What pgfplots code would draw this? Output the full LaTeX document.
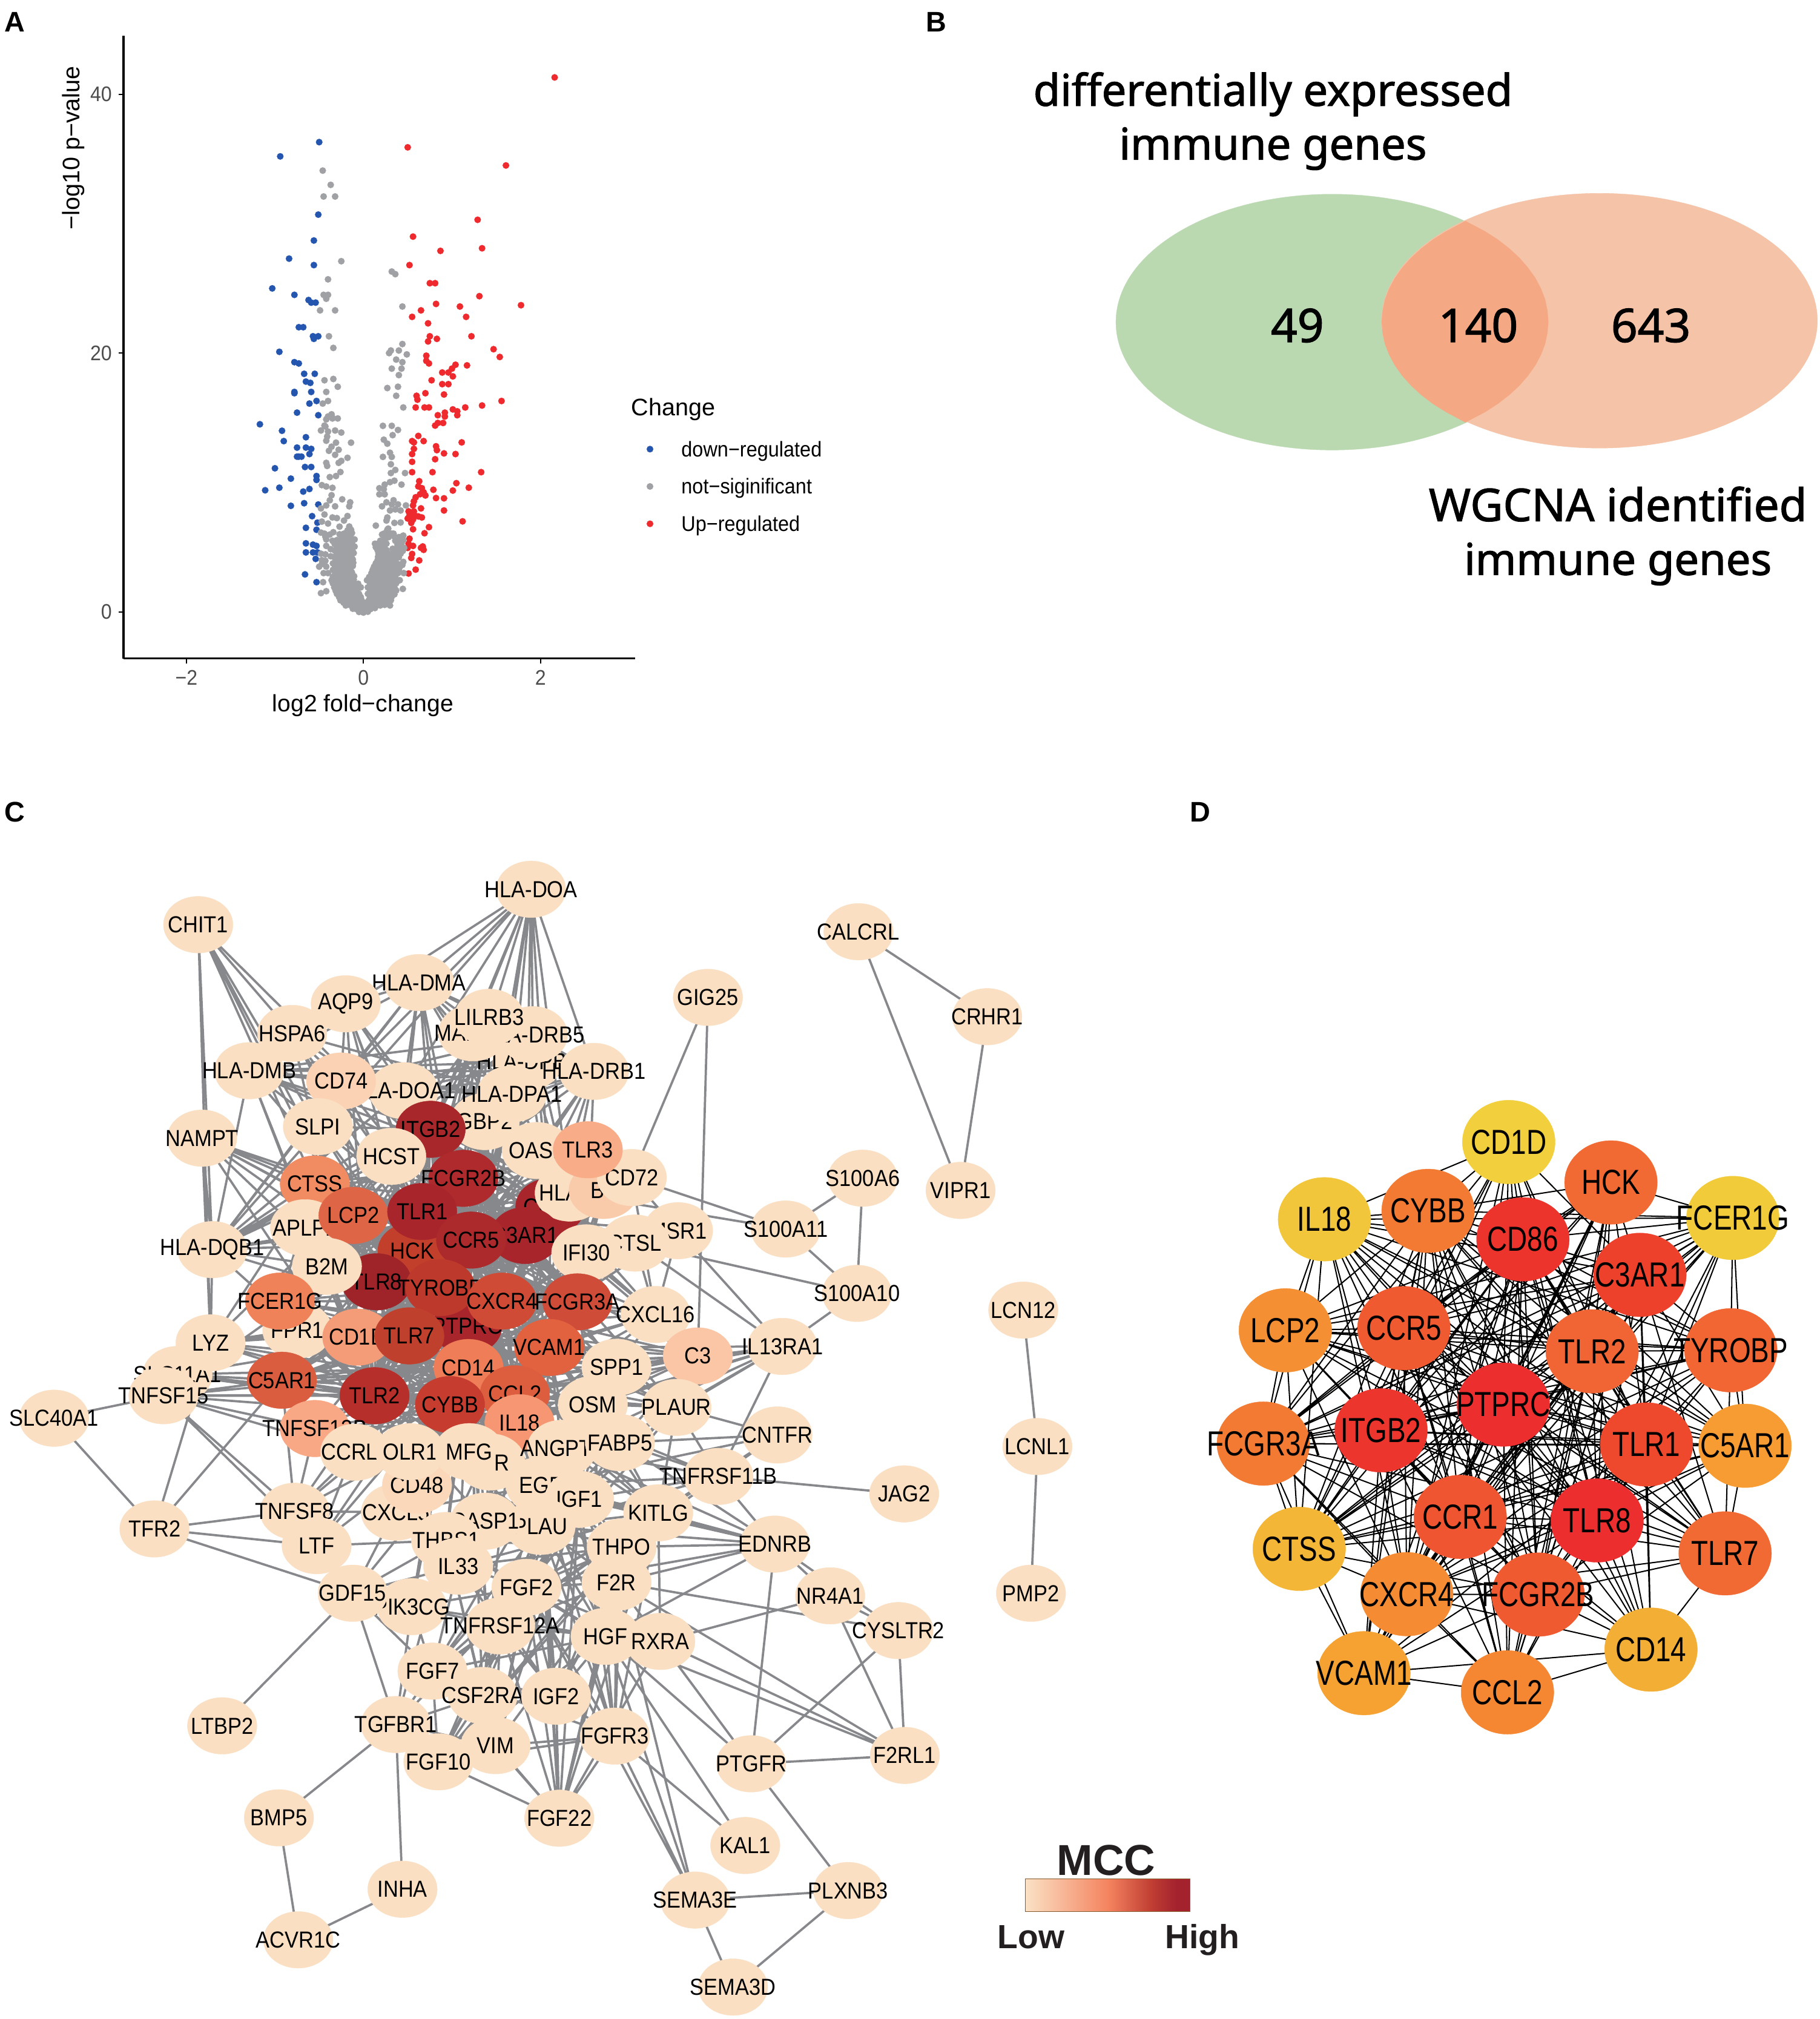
\documentclass[border=0pt]{standalone}
\usepackage{fontspec}
\usepackage{pgfplots}
\pgfplotsset{compat=1.18}
\setmainfont{Liberation Sans}
\newfontfamily\glf[FakeStretch=0.9]{Liberation Sans}
\newfontfamily\gdf[FakeStretch=0.8]{Liberation Sans}
\newfontfamily\axf[FakeStretch=0.92]{Liberation Sans}
\newfontfamily\venf[FakeBold=1.6]{Noto Sans}
\definecolor{ticktext}{HTML}{4D4D4D}
\definecolor{vgrey}{HTML}{A0A1A4}
\definecolor{vblue}{HTML}{2455AF}
\definecolor{vred}{HTML}{EE2A2E}
\definecolor{edgeC}{HTML}{87888C}
\definecolor{vg}{HTML}{BBD9B1}
\definecolor{vp}{HTML}{F4C3A8}
\definecolor{vo}{HTML}{F4A883}
\definecolor{bark}{HTML}{231F20}
\definecolor{m0}{HTML}{FBE1C5}
\definecolor{m1}{HTML}{F7B494}
\definecolor{m2}{HTML}{F58460}
\definecolor{m3}{HTML}{C13F33}
\definecolor{m4}{HTML}{A3222E}
\pgfdeclarehorizontalshading{mccshade}{100bp}{color(0bp)=(m0); color(25bp)=(m0); color(37bp)=(m1); color(50bp)=(m2); color(63bp)=(m3); color(71bp)=(m4); color(75bp)=(m4); color(100bp)=(m4)}
% ---- node helpers
\def\N#1#2#3{\Nh{#1}{#2}{#3}{FADFC3}}
\def\Nh#1#2#3#4{\NL{#1}{#2}{#3}{#4}{#1}}
\def\NLdef#1#2#3#4#5{\expandafter\gdef\csname n@#1\endcsname{#2,#3}\definecolor{h#4}{HTML}{#4}}
\def\NLdrawC#1#2#3#4#5{\addplot[forget plot,only marks,mark=*,mark size=11pt,mark options={xscale=1.227,draw=h#4,line width=0.1pt,fill=h#4},nodes near coords={#5},every node near coord/.style={anchor=center,inner sep=0pt,text=black,font=\glf\fontsize{9}{9}\selectfont}] coordinates {(#2,#3)};}
\def\NLdrawD#1#2#3#4#5{\addplot[forget plot,only marks,mark=*,mark size=16.25pt,mark options={xscale=1.108,draw=h#4,line width=0.1pt,fill=h#4},nodes near coords={#5},every node near coord/.style={anchor=center,inner sep=0pt,text=black,font=\gdf\fontsize{13.5}{13.5}\selectfont}] coordinates {(#2,#3)};}
\newcommand\addE[3]{\ifcsname n@#2\endcsname\ifcsname n@#3\endcsname\xdef#1{#1(\csname n@#2\endcsname)(\csname n@#3\endcsname)(nan,nan)}\else\typeout{MISSING #3}\fi\else\typeout{MISSING #2}\fi}
\def\Cnodes{%
\N{HLA-DOA}{412.6}{-691}\N{CHIT1}{154}{-718.5}\N{CALCRL}{667}{-724}\N{GIG25}{550}{-775}\N{CRHR1}{767}{-790}\N{VIPR1}{746.3}{-925}\N{S100A6}{670.3}{-915.5}\N{S100A11}{610.4}{-955}\N{S100A10}{665.8}{-1005}\N{LCN12}{795}{-1018}\N{LCNL1}{806}{-1124}\N{PMP2}{801}{-1238}\N{JAG2}{702.5}{-1160.8}\N{SLC40A1}{42}{-1102}\N{TFR2}{120}{-1188}%
\N{HLA-DMA}{325.6}{-763.5}\N{HSPA6}{227}{-803}\N{AQP9}{268.6}{-780}\N{HLA-DPB1}{410}{-825}\N{MARCO}{367.6}{-802.5}\N{HLA-DRB5}{414}{-804}\N{LILRB3}{380}{-790.5}\N{HLA-DMB}{193.6}{-832}\N{HLA-DOA1}{313.6}{-847.5}\Nh{CD74}{265}{-840}{FBD3B4}\N{HLA-DRB1}{461.5}{-832.5}\N{GBP2}{376.6}{-871.5}\Nh{ITGB2}{334.6}{-877.5}{A8272B}\N{HLA-DPA1}{397.6}{-850}%
\N{SLPI}{247}{-875.4}\N{NAMPT}{157}{-884.4}\N{HCST}{304}{-898.5}\N{OAS1}{417}{-894}\Nh{FCGR2B}{360}{-915.6}{AE2A2C}\Nh{CD86}{427.6}{-937.5}{A8262B}\N{HLA-B}{442.6}{-927}\NL{BST2}{469}{-925}{FACBAB}{\hspace{10pt}BST2}\N{CD72}{490.9}{-915}\Nh{TLR3}{456.7}{-893.4}{F8AC88}%
\Nh{CTSS}{244.6}{-920}{F08B62}\N{APLP2}{237}{-954}\Nh{LCP2}{274.6}{-944.4}{DE6546}\Nh{HCK}{320.5}{-972}{C23F2C}\Nh{TLR1}{328}{-941.4}{A8262B}\Nh{C3AR1}{408}{-960}{A8262B}\Nh{CCR5}{366}{-963.6}{AC2A2C}\N{MSR1}{526.8}{-956.3}\N{CTSL}{493.4}{-965.9}\N{IFI30}{455.5}{-973.5}\N{HLA-DQB1}{165}{-971}\Nh{TLR8}{292.6}{-996}{9F2429}\N{B2M}{254}{-984}\Nh{PTPRC}{363}{-1030.5}{A8262B}\Nh{TYROBP}{342}{-1000.5}{BD392B}\Nh{CXCR4}{390}{-1011}{D04B35}\Nh{FCGR3A}{448.6}{-1011.6}{CE4C38}\N{FPR1}{231}{-1033.5}\Nh{FCER1G}{217.6}{-1011}{EF8259}\N{CXCL16}{509.4}{-1021.4}\Nh{CD1D}{277.6}{-1039}{F49B78}\Nh{TLR7}{318}{-1038}{C0402E}\Nh{VCAM1}{426.7}{-1047}{E26240}\N{SLC11A1}{138}{-1068}\N{LYZ}{163.6}{-1043.4}\N{TNFSF15}{127}{-1084.5}\N{SPP1}{479}{-1062.4}\Nh{C3}{542.2}{-1053.6}{FBC6A6}\N{IL13RA1}{607.9}{-1046.2}\Nh{CD14}{364}{-1062.6}{EF7E58}\Nh{C5AR1}{219}{-1072.5}{DB5D40}\Nh{TLR2}{291}{-1084.5}{B62F2A}\Nh{CCL2}{400}{-1083}{DC5E3F}\Nh{CYBB}{349.6}{-1091.4}{C63D2F}\N{OSM}{460.6}{-1091.4}\N{PLAUR}{525.6}{-1093.6}\Nh{IL18}{403.6}{-1105.5}{F69672}%
\N{CNTFR}{604}{-1115}\N{TNFRSF11B}{558.2}{-1147.2}\Nh{TNFSF13B}{244.6}{-1110}{F9A886}\N{CXCL5}{307.6}{-1175}\Nh{CD48}{324}{-1154}{FCD8BA}\N{CCRL2}{276}{-1128.4}\N{OLR1}{318.7}{-1128}\NL{CCR2}{381}{-1136}{FADFC3}{}\NL{MFGE8}{364.6}{-1128}{FADFC3}{MFG}\N{ANGPT1}{436.6}{-1125.4}\N{FABP5}{481.6}{-1121}%
\N{TNFSF8}{229}{-1174.3}\N{EGF}{420}{-1154}\N{IGF1}{450}{-1165}\N{PLAU}{420}{-1186}\N{CASP1}{377}{-1182}\N{THBS1}{346.6}{-1197}\N{KITLG}{511.4}{-1175.5}\N{LTF}{246}{-1201}\N{EDNRB}{602}{-1199.8}\N{THPO}{483}{-1202}\N{F2R}{479}{-1229.5}\N{IL33}{356}{-1217}\N{PIK3CG}{320}{-1248.4}\N{GDF15}{274}{-1238}\N{FGF2}{409}{-1233.4}\N{TNFRSF12A}{388.6}{-1263.4}\N{HGF}{470.5}{-1271.5}\N{RXRA}{513}{-1275.4}\N{NR4A1}{645}{-1240}\N{CYSLTR2}{698}{-1267}\N{FGF7}{336}{-1298.5}\N{CSF2RA}{375}{-1317.4}\N{IGF2}{432}{-1318}\N{LTBP2}{172.6}{-1341}\N{TGFBR1}{307.6}{-1340}\N{VIM}{385}{-1356.4}\N{FGF10}{340.6}{-1369}\N{FGFR3}{477.7}{-1349}\N{PTGFR}{583.6}{-1370.5}\N{F2RL1}{703}{-1364}\N{FGF22}{434.5}{-1412.8}\N{BMP5}{216.7}{-1412.5}\N{KAL1}{579}{-1434}\N{INHA}{312.7}{-1468}\N{SEMA3E}{540}{-1476.4}\N{PLXNB3}{659}{-1469}\N{ACVR1C}{231.7}{-1507.3}\N{SEMA3D}{569.5}{-1544}}
\let\NL\NLdef
\Cnodes
% ---- edges of panel C
\gdef\Elist{}
\def\core{ITGB2,FCGR2B,TLR1,CD86,C3AR1,CCR5,HCK,TLR8,TYROBP,CXCR4,FCGR3A,TLR7,PTPRC,VCAM1,CD14,TLR2,CYBB,CCL2,IL18,C5AR1,CD1D,FCER1G,LCP2,CTSS,TLR3}
\def\mhc{HLA-DOA,HLA-DMA,HLA-DMB,HLA-DRB5,HLA-DPB1,HLA-DOA1,HLA-DPA1,HLA-DRB1,HLA-DQB1,CD74,HLA-B}
\foreach \a [count=\i] in \core {\foreach \b [count=\j] in \core {\ifnum\j>\i\relax\addE\Elist\a\b\fi}}
\foreach \a [count=\i] in \mhc {\foreach \b [count=\j] in \mhc {\ifnum\j>\i\relax\addE\Elist\a\b\fi}}
\foreach \a in \mhc {\foreach \b in {ITGB2,PTPRC,CD86,CCR5,TLR2}{\addE\Elist\a\b}}
\foreach \a/\bs in {%
CHIT1/{LYZ,SLPI,HSPA6,CTSS,TLR8,LCP2,FCGR3A,HLA-DQB1},
NAMPT/{LYZ,TLR2,CCR5,TLR1,TLR7,PTPRC,CXCR4,FCGR3A,HLA-DQB1,HCK},
AQP9/{ITGB2,TLR2,PTPRC,CD74,FCGR3A,HSPA6,HCK,TLR1,HLA-DMA},
HSPA6/{TLR2,TLR1,ITGB2,CD14,PTPRC,HLA-DMB,CD74,HLA-DPA1},
SLPI/{CTSS,TLR2,TLR1,CD14,PTPRC,ITGB2,CD74},
HCST/{ITGB2,TYROBP,FCER1G,PTPRC,FCGR3A,HCK,TLR1},
MARCO/{HCK,TLR2,PTPRC,ITGB2,HLA-DMA,HLA-DOA,TLR7,TLR1},
LILRB3/{PTPRC,TYROBP,FCER1G,HCK,FCGR2B,ITGB2,HLA-DMA,HLA-DRB1},
GBP2/{IL18,TLR3,HLA-DPA1,CD74,CCL2,CXCL16},
OAS1/{CCR5,CD86,TLR3,TLR7,IFI30},
CD72/{PTPRC,CD86,GIG25,HLA-B,S100A11,TLR2,CD1D,CXCL16},
BST2/{PTPRC,TLR3,IL18,FCGR3A,IFI30},
GIG25/{C3},
APLP2/{ITGB2,TLR2,CD14,PTPRC,CCL2,B2M},
B2M/{ITGB2,PTPRC,FCER1G,TYROBP,CD14,FCGR3A,HLA-DQB1,HLA-DMB,HLA-DPA1,TLR2,HLA-B,HLA-DRB1},
FPR1/{PTPRC,TLR2,C5AR1,CCL2,CXCR4,ITGB2,TYROBP,LYZ,SPP1},
LYZ/{PTPRC,CD14,TLR2,ITGB2,CTSS,HLA-DQB1,CYBB,FCGR3A,SLC11A1,CCL2},
SLC11A1/{PTPRC,TLR2,CD14,C5AR1,CCL2,TLR7,CYBB,IL18},
TNFSF15/{SLC40A1,TNFSF8,CCRL2,TNFSF13B,C5AR1,TLR2,LTF,CCL2,CD14,TLR1,IL18},
SLC40A1/{TFR2},TFR2/{LTF,GDF15,C5AR1,LYZ,TNFSF8},
TNFSF13B/{PTPRC,CD14,TLR2,CCL2,TNFSF8,CXCR4,CCR5,IL18,OSM},
CXCL16/{PTPRC,CCL2,VCAM1,CCR5,IL18,IFI30,CD14,TLR2,ITGB2,FCGR3A,SPP1,CXCR4},
IFI30/{PTPRC,CD14,CTSL,TLR2,FCGR3A,CD86,HLA-DRB1},
CTSL/{S100A10,IL13RA1,CXCL16,PTPRC,FCGR3A,CD14,CD86,TLR7},
MSR1/{CXCL16,IL13RA1,CD14,FCER1G,TLR2,PTPRC,CD72,TLR1},
C3/{CCL2,TLR2,PTPRC,C5AR1,CD14,ITGB2,IL18,SPP1,TLR8,CCR5,VCAM1,OSM,PLAUR,PLAU},
SPP1/{PTPRC,CD14,CCL2,VCAM1,IL18,IL13RA1,ITGB2,TLR2,PLAUR,OSM,PLAU,IGF1,CXCR4,TLR1},
OSM/{PTPRC,CD14,CCL2,VCAM1,IL18,IL13RA1,IGF1,FGF2,HGF,PLAU,TLR2,FCGR3A,CCR5},
PLAUR/{PTPRC,CD14,CCL2,VCAM1,IL13RA1,CNTFR,TNFRSF11B,KITLG,PLAU,FGF2,ITGB2,TLR2,CCR5,IGF1,THBS1,FABP5},
FABP5/{PTPRC,CD14,CCL2,IL18,CNTFR,KITLG,EDNRB,TNFRSF11B,IGF1,VCAM1,IL13RA1},
ANGPT1/{PTPRC,CD14,CCL2,VCAM1,IGF1,KITLG,EDNRB,FGF2,HGF,THBS1,PLAU,IL13RA1,TNFRSF11B},
IL13RA1/{S100A10,TNFRSF11B,VCAM1,CCL2,IL18},
S100A6/{S100A11,S100A10},S100A11/{S100A10,HLA-B},
CNTFR/{TNFRSF11B,KITLG,EGF},JAG2/{TNFRSF11B},
TNFRSF11B/{KITLG,IGF1,FGF2,EGF,PLAU,THPO,CCL2,EDNRB},
CCRL2/{PTPRC,CD14,TLR2,CCL2,TNFSF8,CXCR4,TLR1,VCAM1},
OLR1/{PTPRC,CD14,TLR2,CCL2,VCAM1,TLR7,CYBB},
MFGE8/{PTPRC,CD14,TLR2,ITGB2,CYBB,CCL2},
CCR2/{CCL2,CD14,PTPRC,TLR2,CXCR4,IL18},
CD48/{PTPRC,ITGB2,TLR2,FCER1G,CD14,CYBB},
CXCL5/{CCL2,CXCR4,IL18,TNFSF8,THBS1,PTPRC,TLR2,CD14,PLAU},
TNFSF8/{TLR2,CD14,C5AR1,CCL2,LTF,CXCL5},
LTF/{PTPRC,TLR2,CD14,CCL2,THBS1},
THBS1/{CD14,IL33,PLAU,IGF1,FGF2,HGF,PTPRC,GDF15,CCL2,TGFBR1,THPO,VIM},
CASP1/{IL18,IL33,CXCR4,TLR2,PTPRC,PLAU,CCL2},
IL33/{IL18,CD14,FGF2,GDF15,KITLG,THPO,FGF7},
PLAU/{PTPRC,CD14,CCL2,VCAM1,IGF1,EGF,HGF,KITLG,THPO,F2R,FGF2,FGF7,TLR2,F2R,EDNRB},
IGF1/{PTPRC,CD14,KITLG,THPO,F2R,EGF,FGF2,CCL2,VCAM1,EDNRB,TNFRSF12A,FGF7},
EGF/{PTPRC,CD14,KITLG,THPO,F2R,FGF2,FGF7,TNFRSF12A,HGF,EDNRB,CXCL5},
KITLG/{EDNRB,THPO,F2R,FGF2,HGF,TNFRSF12A,RXRA,PTPRC,VCAM1,CCL2},
THPO/{EDNRB,F2R,FGF2,HGF,TNFRSF12A,IGF2,PTPRC,FGF7},
F2R/{EDNRB,CYSLTR2,PTGFR,F2RL1,FGF2,HGF,TNFRSF12A,VIM,IGF2},
FGF22/{FGF2,FGF7,FGF10,IGF1,IGF2,HGF,FGFR3,KITLG,THPO,F2R,PLAU,VIM,TNFRSF12A,EGF,RXRA},
FGFR3/{FGF2,FGF7,FGF10,IGF1,IGF2,HGF,KITLG,THPO,F2R,PLAU,EGF,VIM,KAL1,SEMA3E},
FGF10/{FGF2,FGF7,KITLG,THPO,IGF1,HGF,PLAU,VIM,CSF2RA,TGFBR1},
FGF7/{FGF2,HGF,IGF1,KITLG,THPO,PLAU,EGF,TNFRSF12A,CSF2RA,PIK3CG},
IGF2/{HGF,FGF2,F2R,KITLG,THPO,PLAU,EGF,THBS1,TNFRSF12A,FGF7,IGF1},
HGF/{FGF2,F2RL1,KAL1,PTGFR,SEMA3E,RXRA,TNFRSF12A,CXCL5,EDNRB,PIK3CG},
VIM/{FGF2,PLAU,F2R,IGF1,CSF2RA,PTPRC,CD14,TNFRSF12A},
CSF2RA/{PTPRC,TNFRSF12A,CD14,THBS1,FGF2,CCL2},
TGFBR1/{FGF7,FGF2,PIK3CG,GDF15,BMP5,INHA,VIM,THBS1,CSF2RA},
TNFRSF12A/{FGF2,PIK3CG,IL33,F2R},
PIK3CG/{FGF2,GDF15,IL33,PTPRC,CCR5,FGF7},
GDF15/{LTBP2,LTF,CD14,CCL2,FGF7},
ACVR1C/{BMP5,INHA},
SEMA3E/{PLXNB3,SEMA3D,FGF2,F2R},PLXNB3/{SEMA3D,PTGFR},
PTGFR/{F2RL1,CYSLTR2,EDNRB,RXRA},
RXRA/{NR4A1,F2RL1,FGF2},NR4A1/{EDNRB,F2RL1,CYSLTR2},
EDNRB/{CYSLTR2,FGF2},CYSLTR2/{F2RL1},
CALCRL/{CRHR1,VIPR1},CRHR1/{VIPR1},LCN12/{LCNL1},LCNL1/{PMP2}%
}{\foreach \b in \bs {\addE\Elist\a\b}}
% ---- panel D
\def\Dnodes{%
\Nh{CD1D}{1172.2}{-887.4}{F2CF3C}\Nh{IL18}{1029}{-947.4}{F2C63A}\Nh{CYBB}{1109.5}{-940.9}{F27A33}\Nh{HCK}{1251.6}{-918.8}{F16A33}\Nh{FCER1G}{1346.3}{-946.4}{F1CB3A}\Nh{CD86}{1183.2}{-963}{EC342C}\Nh{C3AR1}{1274.1}{-990.6}{EE412C}\Nh{LCP2}{998.6}{-1033.7}{F58F33}\Nh{CCR5}{1090.7}{-1032}{F05A30}\Nh{TLR2}{1237}{-1050}{F16433}\Nh{TYROBP}{1344.7}{-1049.2}{F16633}\Nh{PTPRC}{1168}{-1091.4}{EC2F2E}\Nh{ITGB2}{1073}{-1111.4}{EC352D}\Nh{FCGR3A}{981.5}{-1121.7}{F27A33}\Nh{C5AR1}{1355.8}{-1123.4}{F69C32}\Nh{TLR1}{1279.2}{-1122.4}{EE482D}\Nh{CCR1}{1134.5}{-1178.7}{EF5530}\Nh{TLR8}{1240.9}{-1181.4}{EC2F2E}\Nh{CTSS}{1009.4}{-1203.5}{F3B637}\Nh{TLR7}{1340.3}{-1207}{F26A33}\Nh{CXCR4}{1093}{-1238.7}{F58B33}\Nh{FCGR2B}{1195}{-1239}{EF5A30}\Nh{CD14}{1282.7}{-1281.8}{F3AE35}\Nh{VCAM1}{1059.7}{-1300.1}{F5A233}\Nh{CCL2}{1171.2}{-1315}{F58732}}
\let\NL\NLdef
\Dnodes
\def\dlist{CD1D,IL18,CYBB,HCK,FCER1G,CD86,C3AR1,LCP2,CCR5,TLR2,TYROBP,PTPRC,ITGB2,FCGR3A,C5AR1,TLR1,CCR1,TLR8,CTSS,TLR7,CXCR4,FCGR2B,CD14,VCAM1,CCL2}
\foreach \p/\q in {CD1D/HCK,CD1D/FCER1G,CD1D/TYROBP,CD1D/C5AR1,CD1D/TLR7,CD1D/CD14,CD1D/CCL2,CD1D/VCAM1,CD1D/LCP2,HCK/TYROBP,HCK/C5AR1,HCK/TLR7,HCK/CD14,IL18/HCK,HCK/LCP2,FCER1G/TLR7,FCER1G/CD14,FCER1G/CCL2,TYROBP/CCL2,TYROBP/CD14,C5AR1/CD14,C5AR1/CCL2,C5AR1/VCAM1,TLR7/CCL2,TLR7/VCAM1,CTSS/TLR7,FCGR3A/TLR7,CTSS/CD14,FCGR3A/CD14,LCP2/CD14,IL18/CD14,CTSS/CCL2,LCP2/CCL2,IL18/CCL2,LCP2/VCAM1,IL18/VCAM1,FCER1G/VCAM1,TYROBP/VCAM1}{\expandafter\gdef\csname sk@\p @\q\endcsname{}\expandafter\gdef\csname sk@\q @\p\endcsname{}}
\gdef\Dlist{}
\foreach \a [count=\i] in \dlist {\foreach \b [count=\j] in \dlist {\ifnum\j>\i\relax\ifcsname sk@\a @\b\endcsname\else\addE\Dlist\a\b\fi\fi}}
\begin{document}
\begin{tikzpicture}[x=1pt,y=1pt]
\path[use as bounding box] (0,0) rectangle (707pt,784.4pt);
\begin{axis}[at={(0pt,0pt)},anchor=south west,hide axis,scale only axis,width=707pt,height=784.4pt,xmin=0,xmax=1414,ymin=-1568.8,ymax=0,clip=false,unbounded coords=jump]
% panel letters
\node[anchor=west,inner sep=0pt,font=\bfseries\fontsize{11}{11}\selectfont] at (axis cs:3,-17) {A};
\node[anchor=west,inner sep=0pt,font=\bfseries\fontsize{11}{11}\selectfont] at (axis cs:719,-17) {B};
\node[anchor=west,inner sep=0pt,font=\bfseries\fontsize{11}{11}\selectfont] at (axis cs:3,-631) {C};
\node[anchor=west,inner sep=0pt,font=\bfseries\fontsize{11}{11}\selectfont] at (axis cs:924,-631) {D};
% volcano legend
\node[anchor=west,inner sep=0pt,font=\fontsize{9.3}{9.3}\selectfont] at (axis cs:490,-318) {Change};
\addplot[forget plot,only marks,mark=*,mark size=1.25pt,mark options={draw=vblue,line width=0.1pt,fill=vblue}] coordinates {(505,-349)};
\addplot[forget plot,only marks,mark=*,mark size=1.25pt,mark options={draw=vgrey,line width=0.1pt,fill=vgrey}] coordinates {(505,-378)};
\addplot[forget plot,only marks,mark=*,mark size=1.25pt,mark options={draw=vred,line width=0.1pt,fill=vred}] coordinates {(505,-407)};
\node[anchor=west,inner sep=0pt,font=\axf\fontsize{8.3}{8.3}\selectfont] at (axis cs:529,-350.5) {down−regulated};
\node[anchor=west,inner sep=0pt,font=\axf\fontsize{8.3}{8.3}\selectfont] at (axis cs:529,-379.5) {not−siginificant};
\node[anchor=west,inner sep=0pt,font=\axf\fontsize{8.3}{8.3}\selectfont] at (axis cs:529,-408.5) {Up−regulated};
\node[inner sep=0pt,font=\fontsize{9.2}{9.2}\selectfont] at (axis cs:282,-548) {log2 fold−change};
\node[inner sep=0pt,rotate=90,font=\fontsize{9.3}{9.3}\selectfont] at (axis cs:57,-115) {−log10 p−value};
% Venn
\addplot[forget plot,only marks,mark=*,mark size=49.7pt,mark options={xscale=1.69,draw=vg,line width=0.1pt,fill=vg}] coordinates {(1035,-250.3)};
\addplot[forget plot,only marks,mark=*,mark size=49.5pt,mark options={xscale=1.71,draw=vp,line width=0.1pt,fill=vp}] coordinates {(1242.7,-249.2)};
\node[anchor=base,inner sep=0pt,font=\venf\fontsize{17}{17}\selectfont] at (axis cs:989,-82.2) {differentially expressed};
\node[anchor=base,inner sep=0pt,font=\venf\fontsize{17}{17}\selectfont] at (axis cs:989,-124) {immune genes};
\node[anchor=base,inner sep=0pt,font=\venf\fontsize{17.5}{17.5}\selectfont] at (axis cs:1257,-404.9) {WGCNA identified};
\node[anchor=base,inner sep=0pt,font=\venf\fontsize{17}{17}\selectfont] at (axis cs:1257,-446.7) {immune genes};
% panel C
\edef\tmpplot{\noexpand\addplot[forget plot,edgeC,line width=0.88pt,mark=none] coordinates {\Elist};}\tmpplot
\let\NL\NLdrawC
\Cnodes
\addplot[forget plot,only marks,mark=*,mark size=0.01pt,mark options={draw=none,fill=none},nodes near coords={R},every node near coord/.style={anchor=center,inner sep=0pt,text=black,font=\glf\fontsize{9}{9}\selectfont}] coordinates {(390,-1136.5)};
% MCC legend
\shade[shading=mccshade,draw=brown!70!black,line width=0.2pt] (axis cs:796.8,-1459.8) rectangle (axis cs:924.3,-1485.4);
\node[inner sep=0pt,text=bark,font=\bfseries\fontsize{16.8}{16.8}\selectfont] at (axis cs:859.5,-1445.7) {MCC};
\node[anchor=base,inner sep=0pt,text=bark,font=\bfseries\fontsize{13}{13}\selectfont] at (axis cs:801,-1514) {Low};
\node[anchor=base,inner sep=0pt,text=bark,font=\bfseries\fontsize{13}{13}\selectfont] at (axis cs:934,-1514) {High};
% panel D
\edef\tmpplot{\noexpand\addplot[forget plot,black,line width=0.48pt,mark=none] coordinates {\Dlist};}\tmpplot
\let\NL\NLdrawD
\Dnodes
\end{axis}
% overlap of the Venn and its counts, above the circles
\begin{axis}[at={(0pt,0pt)},anchor=south west,hide axis,scale only axis,width=707pt,height=784.4pt,xmin=0,xmax=1414,ymin=-1568.8,ymax=0,clip=false]
\addplot[forget plot,fill=vo,draw=none,mark=none] coordinates {(1138.5,-328.3)(1153.8,-320.3)(1163.7,-313.9)(1172.6,-307)(1180.5,-299.7)(1187.2,-292)(1192.9,-284)(1197.3,-275.7)(1200.5,-267.3)(1202.3,-258.6)(1203,-250)(1202.3,-241.4)(1200.5,-232.7)(1197.3,-224.3)(1192.9,-216)(1187.2,-208)(1180.5,-200.3)(1172.6,-193)(1163.7,-186.1)(1153.8,-179.7)(1138.5,-171.7)(1123,-180)(1113,-186.3)(1104,-193.2)(1096.1,-200.5)(1089.3,-208.1)(1083.6,-216.1)(1079.2,-224.4)(1075.9,-232.8)(1074.1,-241.4)(1073.4,-250)(1074.1,-258.6)(1075.9,-267.2)(1079.2,-275.6)(1083.6,-283.9)(1089.3,-291.9)(1096.1,-299.5)(1104,-306.8)(1113,-313.7)(1123,-320)} --cycle;
\node[anchor=base,inner sep=0pt,font=\venf\fontsize{18}{18}\selectfont] at (axis cs:1008,-265.8) {49};
\node[anchor=base,inner sep=0pt,font=\venf\fontsize{18}{18}\selectfont] at (axis cs:1148.5,-265.8) {140};
\node[anchor=base,inner sep=0pt,font=\venf\fontsize{18}{18}\selectfont] at (axis cs:1282.6,-265.8) {643};
\end{axis}
\begin{axis}[at={(48pt,528.55pt)},anchor=south west,scale only axis,width=198.75pt,height=241.85pt,
 xmin=-2.71,xmax=3.07,ymin=-3.6,ymax=44.5,axis lines=left,axis line style={-,line width=0.75pt},
 xtick={-2,0,2},xticklabels={−2,0,2},ytick={0,20,40},yticklabels={0,20,40},
 tick align=outside,major tick length=2pt,tick style={black,line width=0.5pt},
 tick label style={text=ticktext,font=\axf\fontsize{8.2}{8.2}\selectfont},
 xticklabel style={yshift=1pt},yticklabel style={xshift=1pt},clip=false]
\addplot[only marks,mark=*,mark size=1.25pt,mark options={draw=vblue,line width=0.1pt,fill=vblue}] coordinates {
(-.50,36.3)(-.94,35.2)(-.51,30.7)(-.56,28.7)(-.84,27.3)(-.56,26.8)(-1.03,25)(-.78,24.5)(-.62,24.1)(-.59,23.9)(-.54,23.9)(-.73,22)(-.68,22)(-.57,21.3)(-.51,21.3)(-.56,21.1)(-.95,20.1)(-.78,19.3)(-.73,19.2)(-.67,18.4)(-.55,18.4)(-.65,17.8)(-.60,17.7)(-.78,17)(-.78,16.9)(-.59,17)(-.53,16.3)(-.61,16.1)(-.75,15.4)(-.51,15.2)(-1.17,14.5)(-.92,14)(-.90,13.2)(-.65,13.5)(-.75,12.7)(-.65,12.7)(-.59,12.6)(-.61,12.2)(-.73,12)(-.70,12)(-.75,12)(-.66,11.2)(-.59,11.2)(-1,11.1)(-.82,10.3)(-.53,10.5)(-.53,10.2)(-.95,9.6)(-1.11,9.4)(-.61,9.5)(-.68,9.3)(-.82,8.2)(-.67,8.4)(-.51,8.3)(-.58,7.4)(-.52,6.9)(-.65,6.5)(-.53,6.35)(-.65,5.3)(-.57,5.2)(-.53,5.1)(-.65,4.6)(-.57,4.6)(-.52,4.6)(-.54,4.1)(-.66,2.9)(-.53,2.3)};
\addplot[only marks,mark=*,mark size=1.25pt,mark options={draw=vred,line width=0.1pt,fill=vred}] coordinates {
(2.16,41.3)(.50,35.9)(1.61,34.5)(1.29,30.3)(.56,29)(1.34,28.1)(.87,27.9)(.52,26.8)(.75,25.4)(.81,25.4)(1.31,24.4)(1.78,23.7)(.82,23.8)(1.09,23.6)(.65,23.3)(.55,22.8)(1.16,22.8)(.73,22.3)(.75,21.3)(.83,21.1)(1.22,21.3)(.73,20.9)(1.47,20.3)(1.54,19.7)(.71,19.8)(.71,19.4)(.74,19.2)(1.04,19.1)(1.17,19.05)(1,18.8)(.89,18.5)(.96,18.5)(1.01,18.2)(.77,17.9)(.89,17.6)(.96,17.6)(.70,16.9)(.60,16.7)(.61,16.4)(.91,16.8)(1.56,16.3)(.59,15.8)(.69,15.8)(.74,15.8)(1.34,15.95)(1.15,15.8)(1.01,15.65)(1.06,15.5)(1.06,15.2)(.92,15.4)(.84,15.2)(.92,15.1)(.84,14.6)(.90,14.6)(.81,14.4)
(.62,13.6)(.55,13.2)(.57,13.1)(.68,13.2)(1.11,13.1)(.57,12.6)(.82,12.8)(.83,12.5)(.55,12.2)(.91,12.25)(1.04,12.2)(.81,11.8)(.55,11.6)(.55,10.8)(.78,10.8)(1.33,10.8)(.63,10.1)(1.05,9.95)(.62,9.7)(1.19,9.6)(.66,9.56)(.79,9.44)(1.01,9.38)(.68,9.25)(.64,9.1)(.70,9)(.59,8.86)(.82,8.8)(.91,8.78)(.57,8.55)(.56,8.23)(.65,8)(.91,7.84)(.51,7.77)(.57,7.77)(.52,7.45)(.58,7.45)(.62,7.38)(.66,7.3)(.50,7.22)(.56,7.14)(.54,6.88)(1.12,7)(.74,6.55)(.56,6.39)(.69,6.08)(.52,5.66)(.51,5.27)(.56,5.1)(.50,4.95)(.67,5.06)(.65,4.95)(.68,4.8)(.55,4.48)(.54,4.17)(.63,3.98)(.59,3.27)(.51,2.97)};
\addplot[only marks,mark=*,mark size=1.25pt,mark options={draw=vgrey,line width=0.1pt,fill=vgrey}] coordinates {
(-.46,34.1)(-.37,33)(-.45,32.1)(-.32,32.1)(-.25,27.1)(-.40,25.7)(-.45,24.5)(-.40,24.5)(-.42,24.2)(-.49,23.3)(-.32,23.3)(-.39,21.3)(-.34,20.4)(-.44,17.9)(-.34,18)(-.29,17.4)(-.42,17)(-.40,16.3)(-.46,16.1)(-.35,15)(-.40,15.1)(-.44,14.4)
(.32,26.3)(.36,26.1)(.44,23.6)(.44,20.7)(.31,20.2)(.29,20)(.49,19.9)(.40,20.2)(.37,19.5)(.44,19.3)(.32,18.8)(.43,18.8)(.40,18.3)(.27,17.3)(.39,17.4)(.37,16.7)(.45,15.8)
(-.36,15.27)(-.42,14.88)(-.35,14.95)(-.29,14.95)(-.43,14.33)(-.48,14.02)(-.40,13.94)(-.32,14.02)(-.25,13.86)(-.41,13.55)(-.42,13.23)(-.31,13.08)(-.14,13.08)(-.36,12.77)(-.39,12.45)(-.28,12.53)(-.32,12.14)(-.18,11.91)(-.25,11.67)(-.28,11.52)(-.42,11.52)(-.41,11.28)(-.26,10.81)(-.31,10.5)(-.38,10.42)(-.47,9.8)(-.42,9.69)(-.35,9.59)(-.36,9.02)(-.38,8.63)(-.24,8.7)(-.15,8.47)(-.42,8.23)(-.48,8)(-.32,8.16)(-.16,8.16)(-.44,7.53)(-.35,7.3)(-.30,7.25)(-.18,7.41)(-.22,7.06)(-.47,6.98)(-.40,6.83)(-.27,6.59)(-.48,6.13)(-.34,6.16)(-.43,5.81)
(.22,14.38)(.32,14.38)(.39,14.06)(.33,13.66)(.23,13.31)(.27,13)(.30,12.3)(.32,11.98)(.22,11.98)(.31,11.41)(.36,10.97)(.31,10.73)(.47,10.73)(.35,10.14)(.30,10.03)(.24,9.84)(.43,9.84)(.18,9.56)(.23,9.48)(.18,9.09)(.24,9.09)(.34,8.63)(.26,8.47)(.21,8.16)(.32,8.31)(.39,8.31)(.48,8.23)(.30,7.84)(.42,7.84)(.36,7.92)(.27,7.3)(.26,7.06)(.35,6.88)(.42,6.91)(.14,6.67)(.28,6.44)(.23,6.05)(.34,6.05)(.43,5.81)
(-.05,0)(0,-.05)(.05,0.02)
(-.12,.25)(-.08,.22)(-.03,.3)(.03,.28)(.08,.22)(.13,.3)
(-.2,.5)(-.16,.55)(-.11,.48)(-.06,.55)(-.01,.5)(.04,.55)(.09,.5)(.14,.55)(.19,.5)(.24,.55)(.30,.5)
(-.26,.9)(-.21,.95)(-.16,.88)(-.11,.92)(-.06,.95)(-.02,.9)(.06,.9)(.11,.95)(.16,.88)(.21,.92)(.26,.95)(.31,.9)
(-.3,1.4)(-.25,1.35)(-.2,1.42)(-.15,1.38)(-.1,1.45)(-.05,1.4)(.05,1.4)(.1,1.35)(.15,1.42)(.2,1.38)(.25,1.45)(.3,1.4)(.35,1.36)(-.48,1.45)(-.42,1.6)
(-.33,1.9)(-.28,2)(-.23,1.95)(-.18,1.9)(-.13,2)(-.08,1.95)(-.03,1.9)(.05,1.9)(.1,2)(.15,1.95)(.2,1.9)(.25,2)(.3,1.95)(.35,1.9)(.445,1.78)
(-.36,2.45)(-.31,2.5)(-.26,2.4)(-.21,2.5)(-.16,2.45)(-.11,2.5)(-.456,2.3)(.04,2.45)(.09,2.5)(.14,2.4)(.19,2.5)(.24,2.45)(.29,2.5)(.34,2.4)(.41,2.45)
(-.45,3)(-.40,3)(-.32,2.95)(-.27,3.05)(-.22,3)(-.17,2.95)(-.13,3.05)(.09,3)(.14,2.95)(.19,3.05)(.24,3)(.29,2.95)(.34,3.05)(.39,3)(.456,3)
(-.5,3.5)(-.47,3.7)(-.42,3.5)(-.32,3.5)(-.27,3.55)(-.22,3.45)(-.17,3.5)(-.12,3.55)(.12,3.5)(.17,3.45)(.22,3.55)(.27,3.5)(.32,3.45)(.37,3.55)(.44,3.63)(.41,3.47)
(-.47,4)(-.43,3.95)(-.31,4)(-.26,4.05)(-.21,3.95)(-.16,4)(-.12,4.05)(.16,4)(.21,4.05)(.26,3.95)(.31,4)(.36,4.05)(.45,3.87)
(-.48,4.5)(-.43,4.45)(-.37,4.3)(-.30,4.5)(-.25,4.55)(-.20,4.45)(-.15,4.5)(-.11,4.55)(.17,4.5)(.22,4.45)(.27,4.55)(.32,4.5)(.37,4.45)(.42,4.5)
(-.42,5.1)(-.37,4.85)(-.30,5)(-.25,5.05)(-.2,4.95)(-.15,5)(-.1,5.05)(.14,5)(.19,5.05)(.24,4.95)(.33,4.88)(.38,5)(.43,5.05)(.46,4.95)
(-.42,5.6)(-.35,5.5)(-.30,5.55)(-.25,5.45)(-.2,5.5)(-.15,5.55)(-.1,5.6)(.13,5.27)(.19,5.5)(.24,5.55)(.36,5.5)(.41,5.45)(.45,5.55)
(-.44,6.05)(-.38,5.98)(-.27,6)(-.22,6.05)(-.17,5.95)(-.13,6.1)(.21,5.98)(.26,6.05)(.32,6.05)(.45,5.9)
(-.18,6.3)(-.14,6.35)(-.16,6.6)(.27,6.35)
(-.225,.72)(-.175,.7)(-.125,.74)(-.075,.7)(-.025,.72)(.025,.7)(.075,.74)(.125,.7)(.175,.72)(.225,.7)(.275,.74)
(-.275,1.15)(-.225,1.12)(-.175,1.17)(-.125,1.14)(-.075,1.18)(-.03,1.15)(.075,1.14)(.125,1.18)(.175,1.12)(.225,1.16)(.275,1.14)(.32,1.18)
(-.315,1.65)(-.275,1.68)(-.225,1.63)(-.175,1.67)(-.125,1.64)(-.075,1.68)(.075,1.65)(.125,1.62)(.175,1.68)(.225,1.64)(.275,1.67)(.325,1.63)(.37,1.66)
(-.345,2.2)(-.305,2.22)(-.255,2.18)(-.205,2.24)(-.155,2.2)(-.105,2.22)(-.06,2.18)(.075,2.2)(.125,2.24)(.175,2.18)(.225,2.22)(.275,2.2)(.325,2.16)(.37,2.22)
(-.345,2.72)(-.295,2.7)(-.245,2.74)(-.195,2.68)(-.145,2.72)(-.105,2.76)(.065,2.7)(.115,2.74)(.165,2.68)(.215,2.72)(.265,2.7)(.315,2.76)(.36,2.7)
(-.345,3.25)(-.295,3.28)(-.245,3.22)(-.195,3.26)(-.145,3.24)(.105,3.26)(.155,3.22)(.205,3.28)(.255,3.24)(.305,3.27)(.355,3.22)(.40,3.25)
(-.345,3.75)(-.295,3.78)(-.245,3.72)(-.195,3.76)(-.145,3.74)(-.115,3.8)(.14,3.76)(.19,3.72)(.24,3.78)(.29,3.74)(.34,3.78)(.385,3.72)
(-.335,4.25)(-.285,4.28)(-.235,4.22)(-.185,4.26)(-.135,4.24)(.165,4.26)(.215,4.22)(.265,4.28)(.315,4.24)(.365,4.27)(.40,4.22)
(-.325,4.75)(-.275,4.78)(-.225,4.72)(-.175,4.76)(-.125,4.74)(.16,4.76)(.21,4.72)(.26,4.78)(.355,4.72)(.405,4.76)(.445,4.72)
(-.325,5.25)(-.275,5.28)(-.225,5.22)(-.175,5.26)(-.125,5.24)(.16,5.26)(.215,5.22)(.26,5.28)(.385,5.24)(.43,5.28)
(-.245,5.8)(-.195,5.78)(-.145,5.82)(.235,5.8)(.285,5.78)(.35,5.82)(.40,5.78)};
\end{axis}
\end{tikzpicture}
\end{document}
